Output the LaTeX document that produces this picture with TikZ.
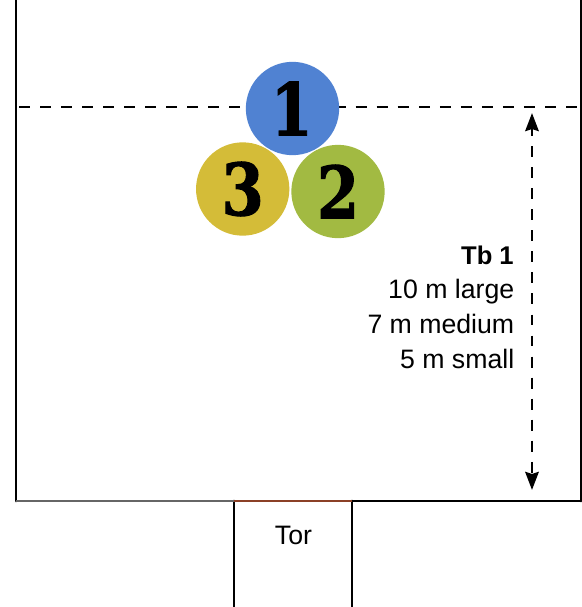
\documentclass[tikz,border=0pt]{standalone}
\usepackage{fontspec}
\setmainfont{Liberation Sans}
\newfontfamily\digitfont[BoldFeatures={FakeBold=1.5}]{DejaVu Serif}
\usetikzlibrary{arrows.meta}
\definecolor{cblue}{HTML}{5082D2}
\definecolor{cyellow}{HTML}{D4BC38}
\definecolor{cgreen}{HTML}{A2BA42}
\definecolor{cgray}{HTML}{666666}
\definecolor{cbrown}{HTML}{8B4026}
\newcommand{\stencil}[1]{\scalebox{0.84}[1]{#1}}
\tikzset{
  wall/.style={line width=2.1pt,line cap=round},
  dashline/.style={line width=2.2pt,dash pattern=on 8.2pt off 7.58pt},
  ball/.style={circle,inner sep=0pt,minimum size=70pt,text=black,font=\digitfont\bfseries\fontsize{54}{54}\selectfont},
  lab/.style={font=\fontsize{20}{24}\selectfont,inner sep=0pt}
}
\begin{document}
\begin{tikzpicture}[x=0.75pt,y=-0.75pt]
\useasboundingbox (0,0) rectangle (582,607);
\coordinate (tl) at (16,0);
\coordinate (bl) at (16,501);
\coordinate (d1) at (234,501);
\coordinate (d2) at (352,501);
\coordinate (br) at (581,501);
\coordinate (tr) at (581,0);
\coordinate (d1b) at (234,607);
\coordinate (d2b) at (352,607);
\coordinate (dl) at (19,107);
\coordinate (dr) at (581,107);
\coordinate (at) at (532,113);
\coordinate (ab) at (532,490);
\draw[dashline] (dl) -- (dr);
\draw[line width=2.2pt,dash pattern=on 8.2pt off 7.58pt,dash phase=2.3pt,{Stealth[length=13.5pt,width=10pt,inset=1.5pt]}-{Stealth[length=13.5pt,width=10pt,inset=1.5pt]}] (at) -- (ab);
\draw[wall] (tl) -- (bl);
\draw[wall] (tr) -- (br);
\draw[wall] (d2) -- (br);
\draw[wall] (d1) -- (d1b);
\draw[wall] (d2) -- (d2b);
\draw[wall,cgray,line cap=butt] (bl) -- (d1);
\draw[wall,cbrown,line cap=butt] (d1) -- (d2);
\node[ball,fill=cblue] (n1) at (292.5,108.5) {\stencil{1}\kern1.2pt};
\node[ball,fill=cyellow] (n3) at (242.7,189) {\stencil{3}};
\node[ball,fill=cgreen] (n2) at (338,191.5) {\stencil{2}};
\node[lab,anchor=base east] (tb) at (514,264) {\fontsize{19.2}{24}\selectfont\bfseries Tb 1};
\node[lab,anchor=base east] (l1) at (514.5,298) {10 m large};
\node[lab,anchor=base east] (l2) at (514.5,333) {7 m medium};
\node[lab,anchor=base east] (l3) at (514.5,368) {5 m small};
\node[lab,anchor=base] (tor) at (293.5,544) {Tor};
\end{tikzpicture}
\end{document}
